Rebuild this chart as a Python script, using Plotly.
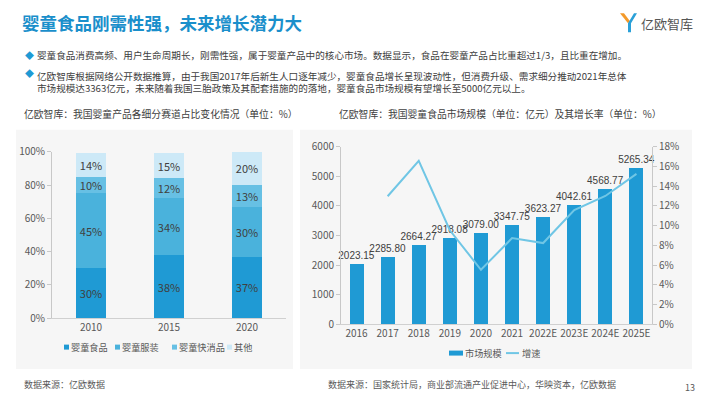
import plotly.graph_objects as go

# ---------------- data ----------------
years_share = ["2010", "2015", "2020"]
share_food = [30, 38, 37]
share_cloth = [45, 34, 30]
share_fmcg = [10, 12, 13]
share_other = [14, 15, 20]

years_market = ["2016", "2017", "2018", "2019", "2020", "2021", "2022E", "2023E", "2024E", "2025E"]
market_size = [2023.15, 2285.80, 2664.27, 2918.08, 3079.00, 3347.75, 3623.27, 4042.61, 4568.77, 5265.34]
growth_years = ["2017", "2018", "2019", "2020", "2021", "2022E", "2023E", "2024E", "2025E"]
growth_rate = [12.98, 16.56, 9.53, 5.52, 8.73, 8.23, 11.58, 13.01, 15.25]

W, H = 710, 399
FONT = "Noto Sans CJK SC"
NUMFONT = "Liberation Sans, Noto Sans CJK SC"
TXT = "#404040"
AX = "#595959"
C_FOOD, C_CLOTH, C_FMCG, C_OTHER = "#1f9ad4", "#4ab2dc", "#67c0e4", "#cde9f7"
C_LINE = "#70c6e5"


def px(x):
    return x / W


def py(y):
    # vertical placement (compensates the observed vertical offset/scale of the page capture)
    return 1 - ((y - 8.8) / 0.963) / H


fig = go.Figure()

seg = [
    ("婴童食品", share_food, C_FOOD),
    ("婴童服装", share_cloth, C_CLOTH),
    ("婴童快消品", share_fmcg, C_FMCG),
    ("其他", share_other, C_OTHER),
]
for name, vals, col in seg:
    fig.add_trace(go.Bar(
        x=years_share, y=vals, name=name, marker_color=col, marker_line_width=0,
        width=0.39, text=[f"{v}%" for v in vals], textposition="inside",
        insidetextanchor="middle", constraintext="none",
        insidetextfont=dict(size=11, color=TXT, family=FONT),
        xaxis="x", yaxis="y", hoverinfo="skip", showlegend=False,
    ))

fig.add_trace(go.Bar(
    x=years_market, y=market_size, name="市场规模", marker_color=C_FOOD,
    marker_line_width=0, width=0.45, text=[f"{v:.2f}" for v in market_size],
    textposition="outside", constraintext="none",
    outsidetextfont=dict(size=10, color=TXT, family=NUMFONT), cliponaxis=False,
    xaxis="x2", yaxis="y2", showlegend=False,
))
fig.add_trace(go.Scatter(
    x=growth_years, y=growth_rate, name="增速", mode="lines",
    line=dict(color=C_LINE, width=2), xaxis="x2", yaxis="y3", showlegend=False,
))

shapes = [
    dict(type="rect", xref="paper", yref="paper", x0=px(16), x1=px(293), y0=py(370), y1=py(130),
         fillcolor="#f6f6f6", line_width=0, layer="below"),
    dict(type="rect", xref="paper", yref="paper", x0=px(300), x1=px(692), y0=py(370), y1=py(130),
         fillcolor="#f6f6f6", line_width=0, layer="below"),
    dict(type="path", xref="paper", yref="paper",
         path=f"M {px(620)} {py(13)} L {px(624)} {py(13)} L {px(630)} {py(21)} L {px(628)} {py(23)} Z",
         fillcolor="#f39a2b", line_width=0),
    dict(type="path", xref="paper", yref="paper",
         path=f"M {px(628)} {py(23)} L {px(634)} {py(13)} L {px(637)} {py(13)} L {px(631)} {py(23)} L {px(631)} {py(32)} L {px(628)} {py(32)} Z",
         fillcolor="#2aa0d8", line_width=0),
]


def sq(x, y, col, w=5, h=5):
    shapes.append(dict(type="rect", xref="paper", yref="paper", x0=px(x), x1=px(x + w),
                       y0=py(y + h / 2), y1=py(y - h / 2), fillcolor=col, line_width=0))


ann = []


def text(x, y, s, size, color=TXT, anchor="left", bold=False):
    ann.append(dict(xref="paper", yref="paper", x=px(x), y=py(y), text=f"<b>{s}</b>" if bold else s,
                    showarrow=False, xanchor=anchor, yanchor="middle", align="left",
                    font=dict(size=size, color=color, family=FONT)))


for x0, name, col in [(64, "婴童食品", C_FOOD), (115, "婴童服装", C_CLOTH),
                      (172, "婴童快消品", C_FMCG), (227, "其他", C_OTHER)]:
    sq(x0, 348, col)
    text(x0 + 5, 348, name, 9.2, AX)

sq(449, 354, C_FOOD, w=14, h=5)
text(463, 354, "市场规模", 9.2, AX)
shapes.append(dict(type="line", xref="paper", yref="paper", x0=px(506), x1=px(519),
                   y0=py(354), y1=py(354), line=dict(color=C_LINE, width=2)))
text(520, 354, "增速", 9.2, AX)

text(20, 22, "婴童食品刚需性强，未来增长潜力大", 17.5, "#1a8fcb", bold=True)
text(639, 23, "亿欧智库", 13, "#555555")

text(23, 55, "◆", 9, "#1f9ad4")
text(35, 55, "婴童食品消费高频、用户生命周期长，刚需性强，属于婴童产品中的核心市场。数据显示，食品在婴童产品占比重超过1/3，且比重在增加。", 9.6, TXT)
text(23, 74, "◆", 9, "#1f9ad4")
ann.append(dict(xref="paper", yref="paper", x=px(35), y=py(67), showarrow=False,
                xanchor="left", yanchor="top", align="left",
                text="亿欧智库根据网络公开数据推算，由于我国2017年后新生人口逐年减少，婴童食品增长呈现波动性，但消费升级、需求细分推动2021年总体"
                     "<br>市场规模达3363亿元，未来随着我国三胎政策及其配套措施的的落地，婴童食品市场规模有望增长至5000亿元以上。",
                font=dict(size=9.6, color=TXT, family=FONT)))

text(22, 114, "亿欧智库：我国婴童产品各细分赛道占比变化情况（单位：%）", 9.8, TXT)
text(337, 114, "亿欧智库：我国婴童食品市场规模（单位：亿元）及其增长率（单位：%）", 9.8, TXT)

text(22, 386, "数据来源：亿欧数据", 9, "#595959")
text(326, 386, "数据来源：国家统计局，商业部流通产业促进中心，华映资本，亿欧数据", 9, "#595959")
text(690, 389, "13", 9, "#595959", anchor="center")

axfont = dict(size=10, color=AX, family=FONT)

fig.update_layout(
    width=W, height=H, margin=dict(l=0, r=0, t=0, b=0),
    paper_bgcolor="white", plot_bgcolor="rgba(0,0,0,0)",
    font=dict(family=FONT, color=TXT), barmode="stack", showlegend=False,
    shapes=shapes, annotations=ann,
    xaxis=dict(domain=[px(52), px(286)], anchor="y", type="category", range=[-0.5, 2.5],
               showline=True, linecolor="#d0d0d0", ticks="", tickfont=axfont, showgrid=False),
    yaxis=dict(domain=[py(319), py(152)], anchor="x", range=[0, 100], tickvals=[0, 20, 40, 60, 80, 100],
               ticktext=["0%", "20%", "40%", "60%", "80%", "100%"], showline=True, linecolor="#c8c8c8",
               ticks="outside", ticklen=4, tickcolor="#c8c8c8", showgrid=False, zeroline=False,
               tickfont=axfont),
    xaxis2=dict(domain=[px(341), px(652)], anchor="y2", type="category", range=[-0.5, 9.5],
                showline=True, linecolor="#d0d0d0", ticks="", tickfont=axfont, showgrid=False),
    yaxis2=dict(domain=[py(325), py(147)], anchor="x2", range=[0, 6000], dtick=1000,
                showline=True, linecolor="#c8c8c8", ticks="outside", ticklen=4, tickcolor="#c8c8c8",
                showgrid=False, zeroline=False, tickfont=axfont),
    yaxis3=dict(overlaying="y2", anchor="x2", side="right", range=[0, 18], dtick=2, ticksuffix="%",
                showline=True, linecolor="#c8c8c8", ticks="outside", ticklen=4, tickcolor="#c8c8c8",
                showgrid=False, zeroline=False, tickfont=axfont),
)

fig.write_html("out.html", config={"displayModeBar": False},
               post_script="document.body.style.margin='0px';")
